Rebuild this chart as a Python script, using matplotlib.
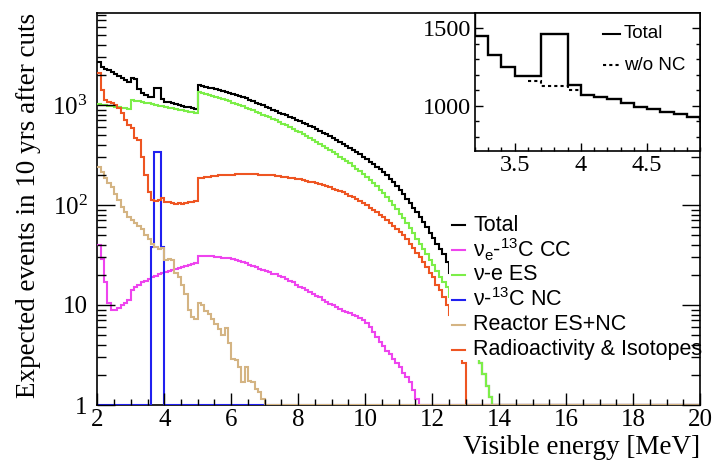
import numpy as np
import matplotlib
matplotlib.use("Agg")
import matplotlib.pyplot as plt
from matplotlib.lines import Line2D
from matplotlib.patches import Rectangle
from matplotlib.ticker import FixedLocator, MultipleLocator, LogLocator, NullFormatter

# binning of the visible-energy spectra [MeV]
E_LO, E_HI, BIN = 2.0, 20.0, 0.1

# each spectrum: low edge of its first bin, then consecutive bin contents
total_start = 2.0
total = [2700, 2400, 2300, 2220, 2130, 2050, 1960, 1870, 1780, 1680,
         1850, 1830, 1450, 1331, 1251, 1195, 1195, 1465, 1460, 1136,
         1071, 1060, 1043, 1021, 995, 980, 963, 946, 931, 918,
         1585, 1550, 1520, 1490, 1460, 1430, 1400, 1370, 1345, 1315,
         1290, 1255, 1225, 1195, 1160, 1120, 1090, 1055, 1020, 990,
         955, 925, 895, 865, 840, 810, 785, 760, 735, 715,
         690, 665, 640, 620, 595, 575, 555, 530, 510, 490,
         470, 450, 430, 410, 390, 370, 355, 335, 320, 300,
         285, 270, 255, 240, 228, 212, 197, 182, 168, 154,
         140, 128, 116, 105, 94, 85, 76, 68, 60, 53,
         47, 41, 36, 32, 27, 21, 17, 13.5, 11, 8.8,
         5.2, 4.3, 3.7, 3.2, 2.6, 2.05, 1.55, 1.2]

cc_start = 2.0
cc = [40, 29, 17, 10.5, 9.0, 9.0, 9.4, 10.0, 10.5, 11.2,
      14.0, 15.0, 16.0, 16.8, 17.5, 18.2, 19.0, 19.6, 20.2, 20.8,
      21.4, 22.0, 22.5, 23.0, 23.6, 24.2, 24.8, 25.3, 25.8, 26.3,
      31, 31, 31, 30.8, 30.6, 30.3, 30.0, 29.8, 29.5, 29.2,
      28.6, 28.0, 27.4, 26.8, 26.0, 25.3, 24.6, 23.8, 23.1, 22.4,
      21.8, 21.2, 20.6, 20.2, 19.7, 19.0, 18.3, 17.5, 16.8, 16.0,
      15.3, 14.7, 14.1, 13.5, 13.0, 12.4, 11.9, 11.3, 10.8, 10.3,
      9.9, 9.5, 9.1, 8.8, 8.6, 8.3, 8.0, 7.7, 7.4, 7.1,
      6.6, 6.0, 5.4, 4.8, 4.3, 3.9, 3.5, 3.2, 2.9, 2.6,
      2.4, 2.1, 1.9, 1.7, 1.4, 1.15]

es_start = 2.0
es = [1010, 1000, 990, 980, 970, 960, 950, 940, 930, 920,
      1120, 1102, 1085, 1068, 1051, 1034, 1018, 1002, 986, 970,
      955, 940, 925, 910, 896, 882, 868, 854, 841, 828,
      1340, 1310, 1280, 1250, 1225, 1195, 1165, 1140, 1115, 1085,
      1055, 1025, 995, 965, 935, 905, 880, 850, 825, 800,
      775, 750, 725, 700, 675, 650, 625, 600, 580, 555,
      535, 510, 490, 470, 450, 430, 410, 390, 372, 355,
      338, 320, 305, 290, 275, 260, 245, 230, 216, 203,
      190, 177, 165, 153, 142, 131, 120, 110, 100, 91,
      82, 74, 66, 59, 52, 46, 41, 36, 32, 28,
      25, 22, 19, 17, 15, 12, 10, 8.5, 7, 6,
      5, 4.2, 3.6, 3.1, 2.6, 2.05, 1.55, 1.2]

nc_start = 3.6
nc = [38, 340, 340, 38]

reactor_start = 2.0
reactor = [240, 215, 185, 165, 150, 130, 112, 96, 85, 76,
           70, 66, 61, 57, 50, 46, 41, 38, 36, 37,
           28, 29, 28, 21, 19, 16, 13, 9, 7.5, 7.2,
           10.5, 10, 8.8, 8.2, 7.2, 6.4, 5.8, 5.0, 5.9, 4.2,
           2.9, 2.8, 2.4, 1.7, 2.4, 1.75, 1.7, 1.45, 1.35, 1.15]

radio_start = 2.0
radio = [2100, 1400, 1120, 1080, 1040, 1000, 930, 830, 710, 630,
         585, 465, 445, 300, 200, 135, 112, 110, 112, 117,
         108, 106, 104, 103, 104, 102, 104, 106, 108, 110,
         185, 188, 190, 192, 194, 196, 197, 198, 199, 200,
         201, 202, 203, 204, 203, 203, 202, 202, 201, 200,
         199, 198, 197, 195, 193, 191, 189, 187, 185, 182,
         180, 177, 174, 171, 168, 165, 162, 159, 156, 152,
         146, 142, 138, 134, 129, 124, 119, 114, 109, 104,
         99, 94, 89, 85, 80, 76, 71, 66, 62, 58,
         54, 50, 46, 41, 37, 33, 30, 27, 24, 21,
         19, 16, 14, 12, 10, 8, 6, 4.5, 3.5, 2.6]

# total without the NC peak, shown in the zoomed panel
wo_nc_start = 3.6
wo_nc = [1158, 1130, 1128, 1100]

plt.rcParams["font.family"] = "Liberation Serif"
plt.rcParams["mathtext.default"] = "regular"

edges = np.round(np.arange(E_LO, E_HI + BIN / 2, BIN), 2)
n_bins = len(edges) - 1


def fill(start, values):
    h = np.zeros(n_bins)
    i0 = int(round((start - E_LO) / BIN))
    h[i0:i0 + len(values)] = values
    return h


def floor(h, ymin=1.0):
    # empty bins sit on the bottom of the log axis
    return np.where(h > 0, h, ymin)


W, H = 712, 465
fig = plt.figure(figsize=(W / 100, H / 100), dpi=100)


def fx(px):
    return px / W


def fy(py):
    return 1 - py / H


ax = fig.add_axes([fx(97.3), fy(405), fx(700) - fx(97.3), fy(13) - fy(405)])

series = [
    (total, total_start, "black", "Total"),
    (cc, cc_start, "#ee44ee", r"ν$_{e}$-$^{13}$C CC"),
    (es, es_start, "#7cee48", "ν-e ES"),
    (nc, nc_start, "#2020f0", r"ν-$^{13}$C NC"),
    (radio, radio_start, "#ee5522", "Radioactivity & Isotopes"),
    (reactor, reactor_start, "#d4b483", "Reactor ES+NC"),
]
for vals, start, col, lab in series:
    ax.stairs(floor(fill(start, vals)), edges, color=col, lw=1.5,
              baseline=None, zorder=3)

ax.set_yscale("log")
ax.set_xlim(E_LO, E_HI)
ax.set_ylim(1, 8300)

ax.xaxis.set_major_locator(MultipleLocator(2))
ax.xaxis.set_minor_locator(MultipleLocator(0.5))
ax.yaxis.set_major_locator(FixedLocator([1, 10, 100, 1000]))
ax.yaxis.set_minor_locator(LogLocator(base=10, subs=np.arange(2, 10)))
ax.yaxis.set_minor_formatter(NullFormatter())
ax.set_yticklabels(["1", "10", "10$^2$", "10$^3$"])

ax.tick_params(which="both", direction="in", top=False, right=True,
               labelsize=18, width=1.0)
ax.tick_params(axis="x", which="major", length=8.5, pad=3)
ax.tick_params(axis="x", which="minor", length=4.5)
ax.tick_params(axis="y", which="major", length=13, pad=7)
ax.tick_params(axis="y", which="minor", length=6.5)
for side in ax.spines:
    ax.spines[side].set_linewidth(1.2)
ax.spines["right"].set_zorder(4.6)
ax.spines["top"].set_zorder(4.6)
ax.xaxis.set_zorder(4.5)
ax.yaxis.set_zorder(4.5)

ax.set_xlabel("Visible energy [MeV]", fontsize=19.5, ha="right", va="center")
ax.xaxis.set_label_coords(1.0, (405 - 447) / 392)
ax.set_ylabel("Expected events in 10 yrs after cuts", fontsize=19.5,
              va="center")
ax.yaxis.set_label_coords((29 - 97.3) / 602.7, 0.51)

# opaque legend box
ax.add_patch(Rectangle(((449 - 97.3) / 602.7, (405 - 360) / 392),
                       1 - (449 - 97.3) / 602.7, (360 - 212) / 392,
                       transform=ax.transAxes, facecolor="white",
                       edgecolor="none", zorder=4))
legend_order = [0, 1, 2, 3, 5, 4]
for row, idx in enumerate(legend_order):
    _, _, col, lab = series[idx]
    py = 225 + row * 24.9
    fig.add_artist(Line2D([fx(452), fx(465)], [fy(py), fy(py)], color=col,
                          lw=1.5, transform=fig.transFigure, zorder=6))
    fig.text(fx(473), fy(py), lab, family="Liberation Sans", fontsize=15.5,
             va="center", ha="left", zorder=6)

# zoom on the NC peak
axin = fig.add_axes([fx(475), fy(151), fx(700) - fx(475), fy(13.5) - fy(151)])
axin.stairs(floor(fill(total_start, total)), edges, color="black", lw=1.7,
            baseline=None)
i0 = int(round((wo_nc_start - E_LO) / BIN))
axin.stairs(wo_nc, edges[i0:i0 + len(wo_nc) + 1], color="black", lw=1.5,
            ls=(0, (1.5, 1.5)), baseline=None)
axin.set_xlim(3.2, 4.9)
axin.set_ylim(710, 1595)
axin.xaxis.set_major_locator(FixedLocator([3.5, 4.0, 4.5]))
axin.xaxis.set_minor_locator(MultipleLocator(0.1))
axin.set_xticklabels(["3.5", "4", "4.5"])
axin.yaxis.set_major_locator(FixedLocator([1000, 1500]))
axin.yaxis.set_minor_locator(MultipleLocator(100))
axin.tick_params(which="both", direction="in", top=False, right=True,
                 labelsize=17.5, width=1.0)
axin.tick_params(which="major", length=6, pad=3)
axin.tick_params(which="minor", length=3)
for side in axin.spines:
    axin.spines[side].set_linewidth(1.2)

for py, style, lab in [(34, "-", "Total"), (65, (0, (1.5, 1.5)), "w/o NC")]:
    fig.add_artist(Line2D([fx(603), fx(620)], [fy(py), fy(py)], color="black",
                          lw=1.5, ls=style, transform=fig.transFigure,
                          zorder=6))
    fig.text(fx(624), fy(py), lab, family="Liberation Sans", fontsize=13.5,
             va="center", ha="left", zorder=6)

fig.savefig("out.png", dpi=100)
